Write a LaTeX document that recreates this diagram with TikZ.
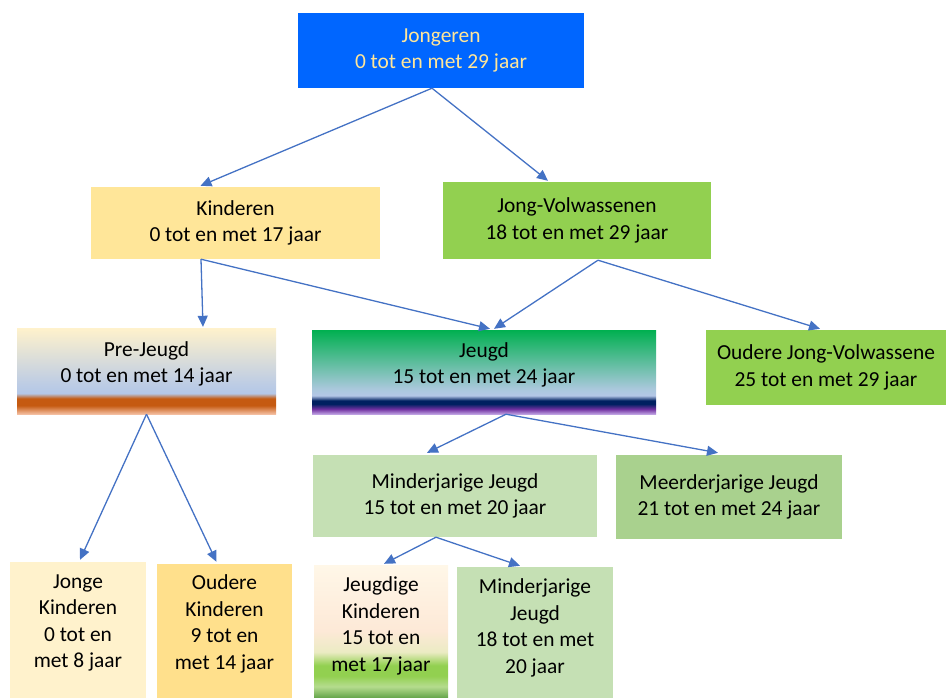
\documentclass[tikz,border=0pt]{standalone}
\usepackage{fontspec}
\setmainfont{Carlito}
\usetikzlibrary{arrows.meta,calc}
\definecolor{cblue}{HTML}{0066FF}
\definecolor{cyel}{HTML}{FFE699}
\definecolor{cgreen}{HTML}{92D050}
\definecolor{clgreen}{HTML}{C5E0B4}
\definecolor{cmgreen}{HTML}{A9D18E}
\definecolor{ccream}{HTML}{FFF2CC}
\definecolor{cgold}{HTML}{FFE08C}
\definecolor{carrow}{HTML}{4472C4}
\definecolor{ctxt}{HTML}{FFE699}
\pgfdeclareverticalshading{prejeugdsh}{100bp}{
 color(0bp)=(rgb,255:red,248;green,203;blue,173);
 color(25bp)=(rgb,255:red,244;green,190;blue,160);
 color(30bp)=(rgb,255:red,197;green,90;blue,17);
 color(34bp)=(rgb,255:red,197;green,90;blue,17);
 color(37bp)=(rgb,255:red,180;green,199;blue,231);
 color(43bp)=(rgb,255:red,190;green,205;blue,228);
 color(75bp)=(rgb,255:red,255;green,242;blue,204);
 color(100bp)=(rgb,255:red,255;green,242;blue,204)}
\pgfdeclareverticalshading{jeugdsh}{100bp}{
 color(0bp)=(rgb,255:red,200;green,175;blue,230);
 color(25bp)=(rgb,255:red,190;green,160;blue,225);
 color(28bp)=(rgb,255:red,112;green,48;blue,160);
 color(31bp)=(rgb,255:red,0;green,32;blue,96);
 color(33bp)=(rgb,255:red,0;green,32;blue,96);
 color(36bp)=(rgb,255:red,180;green,199;blue,231);
 color(40bp)=(rgb,255:red,170;green,200;blue,220);
 color(75bp)=(rgb,255:red,0;green,176;blue,80);
 color(100bp)=(rgb,255:red,0;green,176;blue,80)}
\pgfdeclareverticalshading{jkindsh}{100bp}{
 color(0bp)=(rgb,255:red,106;green,168;blue,79);
 color(25bp)=(rgb,255:red,106;green,168;blue,79);
 color(29bp)=(rgb,255:red,181;green,220;blue,142);
 color(33bp)=(rgb,255:red,146;green,208;blue,80);
 color(37bp)=(rgb,255:red,146;green,208;blue,80);
 color(42bp)=(rgb,255:red,235;green,235;blue,195);
 color(50bp)=(rgb,255:red,253;green,233;blue,215);
 color(75bp)=(rgb,255:red,255;green,247;blue,232);
 color(100bp)=(rgb,255:red,255;green,247;blue,232)}
\tikzset{
 box/.style={draw=none, inner sep=0pt, align=center, text=black,
   font=\fontsize{21.4}{26.5}\selectfont},
 txt/.style={inner sep=0pt, align=center, text=black,
   font=\fontsize{21.4}{26.5}\selectfont},
 conn/.style={draw=carrow, line width=1.3pt, -{Triangle[length=11pt,width=10pt]}}
}
\begin{document}
\begin{tikzpicture}[x=1pt,y=-1pt]
\useasboundingbox (0,0) rectangle (946,697);
% row 1
\node[box, fill=cblue, text=ctxt, minimum width=286pt, minimum height=75pt] (jong) at (441,50.5) {Jongeren\\0 tot en met 29 jaar};
% row 2
\node[box, fill=cyel, minimum width=289pt, minimum height=72pt] (kind) at (235.5,223) {Kinderen\\0 tot en met 17 jaar};
\node[box, fill=cgreen, minimum width=268pt, minimum height=77pt] (jv) at (577,220.5) {Jong-Volwassenen\\18 tot en met 29 jaar};
% row 3
\node[box, shading=prejeugdsh, minimum width=259pt, minimum height=86pt] (pj) at (146.5,371) {};
\node[txt] (pjt) at (146.5,364) {Pre-Jeugd\\0 tot en met 14 jaar};
\node[box, shading=jeugdsh, minimum width=344pt, minimum height=84pt] (jeugd) at (484,372) {};
\node[txt] (jeugdt) at (484,365) {Jeugd\\15 tot en met 24 jaar};
\node[box, fill=cgreen, minimum width=240pt, minimum height=75pt] (ojv) at (826,367.5) {Oudere Jong-Volwassene\\25 tot en met 29 jaar};
% row 4
\node[box, fill=clgreen, minimum width=284pt, minimum height=82pt] (mj) at (455,496) {Minderjarige Jeugd\\15 tot en met 20 jaar};
\node[box, fill=cmgreen, minimum width=226pt, minimum height=84pt] (mej) at (729,497) {Meerderjarige Jeugd\\21 tot en met 24 jaar};
% row 5
\node[box, fill=ccream, minimum width=136pt, minimum height=140pt] (jk) at (78,632) {};
\node[txt] (jkt) at (78,623) {Jonge\\Kinderen\\0 tot en\\met 8 jaar};
\node[box, fill=cgold, minimum width=135pt, minimum height=138pt] (ok) at (224.5,633) {};
\node[txt] (okt) at (224.5,624) {Oudere\\Kinderen\\9 tot en\\met 14 jaar};
\node[box, shading=jkindsh, minimum width=134pt, minimum height=132pt] (jgk) at (381,631) {};
\node[txt] (jgkt) at (381,626) {Jeugdige\\Kinderen\\15 tot en\\met 17 jaar};
\node[box, fill=clgreen, minimum width=156pt, minimum height=135pt] (mj2) at (535,634.5) {};
\node[txt] (mj2t) at (535,628) {Minderjarige\\Jeugd\\18 tot en met\\20 jaar};
% connectors
\draw[conn] ($(jong.south)+(-9,0)$) -- ($(kind.north)+(-35,-1)$);
\draw[conn] ($(jong.south)+(-9,0)$) -- ($(jv.north)+(-29,-1)$);
\draw[conn] ($(kind.south)+(-34.5,0)$) -- ($(pj.north)+(56.5,-1)$);
\draw[conn] ($(kind.south)+(-34.5,0)$) -- ($(jeugd.north)+(6,-1)$);
\draw[conn] ($(jv.south)+(21,1)$) -- ($(jeugd.north)+(10,-1)$);
\draw[conn] ($(jv.south)+(21,1)$) -- ($(ojv.north)+(-6,-1)$);
\draw[conn] (pj.south) -- ($(jk.north)+(2,-2)$);
\draw[conn] (pj.south) -- ($(ok.north)+(-8,-2)$);
\draw[conn] ($(jeugd.south)+(22,0)$) -- ($(mj.north)+(-28,-2)$);
\draw[conn] ($(jeugd.south)+(22,0)$) -- ($(mej.north)+(-11,-2)$);
\draw[conn] ($(mj.south)+(-19,0)$) -- ($(jgk.north)+(3,-1)$);
\draw[conn] ($(mj.south)+(-19,0)$) -- ($(mj2.north)+(-15,-1)$);
\end{tikzpicture}
\end{document}
